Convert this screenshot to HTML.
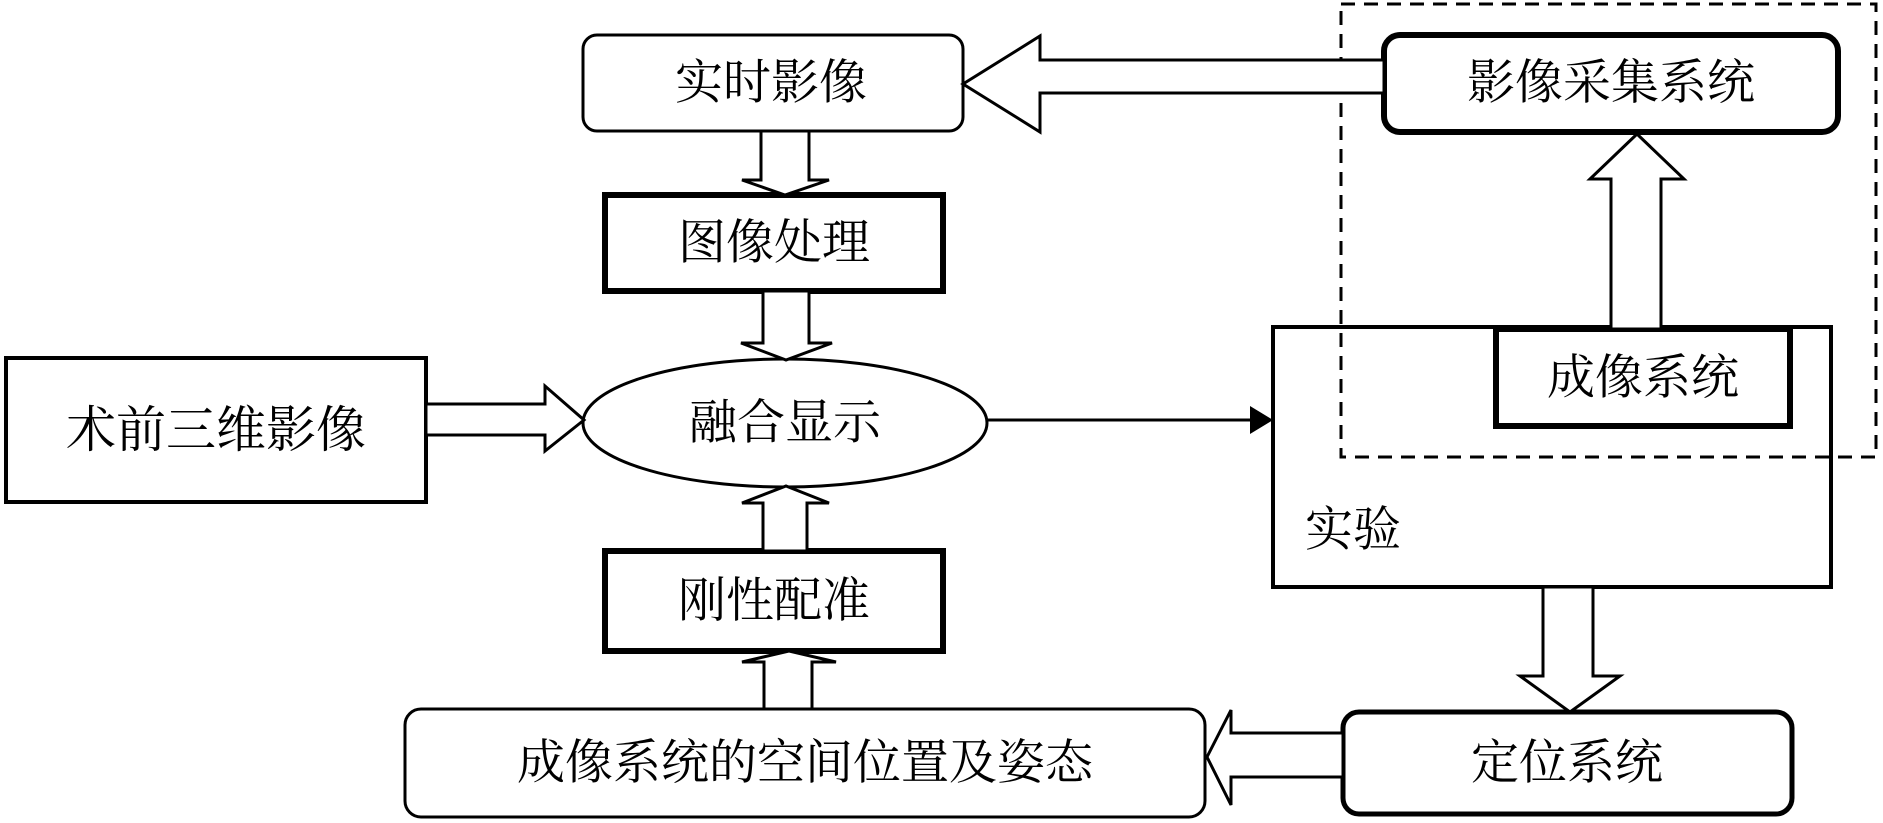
<!DOCTYPE html>
<html><head><meta charset="utf-8"><style>
html,body{margin:0;padding:0;background:#fff;width:1883px;height:823px;overflow:hidden}
text{font-family:"Liberation Serif","Noto Serif CJK SC",serif;font-size:48px;fill:#000;text-anchor:middle;dominant-baseline:central}
</style></head><body>
<svg width="1883" height="823" viewBox="0 0 1883 823" xmlns="http://www.w3.org/2000/svg">
<g fill="#fff" stroke="#000">
<rect x="583" y="35" width="380" height="96" rx="14" stroke-width="3"/>
<rect x="605" y="195" width="338" height="96" stroke-width="6"/>
<ellipse cx="785" cy="423" rx="202" ry="64" stroke-width="3"/>
<rect x="6" y="358" width="420" height="144" stroke-width="4"/>
<rect x="605" y="551" width="338" height="100" stroke-width="6"/>
<rect x="405" y="709" width="800" height="108" rx="16" stroke-width="3"/>
<rect x="1343" y="712" width="449" height="102" rx="16" stroke-width="5"/>
<rect x="1273" y="327" width="558" height="260" stroke-width="4" fill="none"/>
<rect x="1496" y="329" width="294" height="97" stroke-width="6"/>
<rect x="1384" y="35" width="454" height="97" rx="16" stroke-width="6"/>
<rect x="1341" y="4" width="535" height="453" fill="none" stroke-width="3" stroke-dasharray="14,9"/>
<polygon stroke-width="3" points="761,131 809,131 809,180 829,180 785,195 742,180 761,180"/>
<polygon stroke-width="3" points="763,291 809,291 809,343 832,343 786,360 741,343 763,343"/>
<polygon stroke-width="3" points="763,551 807,551 807,503 829,503 786,486 742,503 763,503"/>
<polygon stroke-width="3" points="764,709 812,709 812,662 836,662 789,651 742,662 764,662"/>
<polygon stroke-width="3" points="1611,329 1661,329 1661,179 1684,179 1637,134 1590,179 1611,179"/>
<polygon stroke-width="3" points="1543,587 1593,587 1593,676 1620,676 1570,712 1520,676 1543,676"/>
<polygon stroke-width="3" points="1384,60 1384,93 1040,93 1040,132 963,84 1040,36 1040,60"/>
<polygon stroke-width="3" points="1343,733 1343,777 1231,777 1231,805 1207,757 1231,710 1231,733"/>
<polygon stroke-width="3" points="426,404 426,435 545,435 545,451 584,420 545,386 545,404"/>
<line x1="987" y1="420" x2="1256" y2="420" stroke-width="3"/>
<polygon fill="#000" stroke="none" points="1250,406 1273,420 1250,434"/>
</g>
<text x="771" y="83">实时影像</text>
<text x="774" y="243">图像处理</text>
<text x="785" y="423">融合显示</text>
<text x="216" y="430" style="font-size:50px">术前三维影像</text>
<text x="774" y="601">刚性配准</text>
<text x="805" y="763">成像系统的空间位置及姿态</text>
<text x="1567" y="763">定位系统</text>
<text x="1611" y="83">影像采集系统</text>
<text x="1643" y="378">成像系统</text>
<text x="1305" y="530" style="text-anchor:start">实验</text>
</svg>
</body></html>
